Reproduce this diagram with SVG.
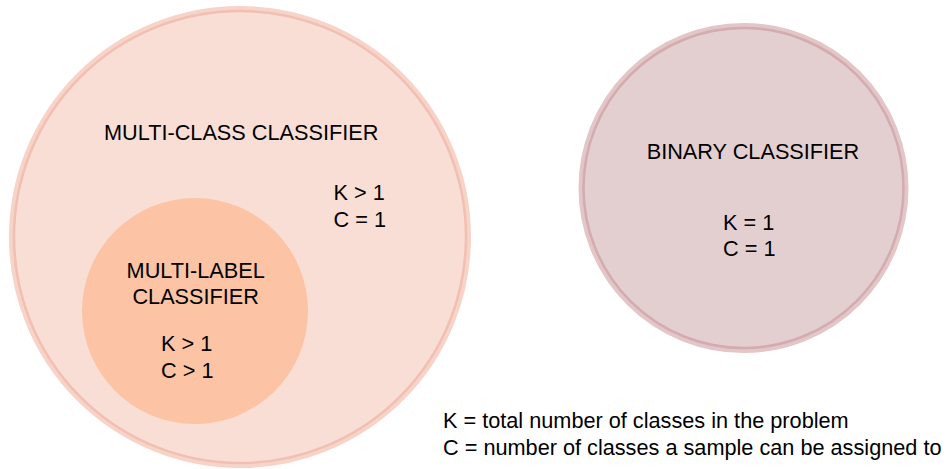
<svg xmlns="http://www.w3.org/2000/svg" width="947" height="469" viewBox="0 0 947 469">
  <style>
    text { font-family: "Liberation Sans", Arial, sans-serif; font-size: 21.7px; fill: #000; }
    .mid { text-anchor: middle; }
    .halo { fill: none; stroke-width: 6; }
    .rim { fill: none; stroke-width: 2.5; }
  </style>
  <rect width="947" height="469" fill="#ffffff"/>

  <!-- Multi-class set (outer) -->
  <g id="multi-class">
    <circle cx="240" cy="237" r="227" fill="#f9ded6"/>
    <circle class="halo" cx="240" cy="237" r="228" stroke="#f7d3c8"/>
    <circle class="rim" cx="240" cy="237" r="226" stroke="#f2c0b2"/>
    <text x="104" y="140">MULTI-CLASS CLASSIFIER</text>
    <text x="333.5" y="200">K &gt; 1</text>
    <text x="333.5" y="226.5">C = 1</text>
  </g>

  <!-- Multi-label set (nested) -->
  <g id="multi-label">
    <circle cx="195" cy="311" r="113" fill="#fcc3a4"/>
    <text class="mid" x="195.7" y="278">MULTI-LABEL</text>
    <text class="mid" x="195.7" y="304">CLASSIFIER</text>
    <text x="161" y="351">K &gt; 1</text>
    <text x="161" y="377.5">C &gt; 1</text>
  </g>

  <!-- Binary set -->
  <g id="binary">
    <circle cx="743.5" cy="188" r="161" fill="#e4cfd0"/>
    <circle class="halo" cx="743.5" cy="188" r="162" stroke="#e3c6c8"/>
    <circle class="rim" cx="743.5" cy="188" r="160" stroke="#d4abae"/>
    <text class="mid" x="753" y="159">BINARY CLASSIFIER</text>
    <text x="723" y="230">K = 1</text>
    <text x="723" y="255.5">C = 1</text>
  </g>

  <!-- Legend -->
  <g id="legend">
    <text x="443" y="428">K = total number of classes in the problem</text>
    <text x="443" y="455">C = number of classes a sample can be assigned to</text>
  </g>

  <g id="connectors"/>
</svg>
